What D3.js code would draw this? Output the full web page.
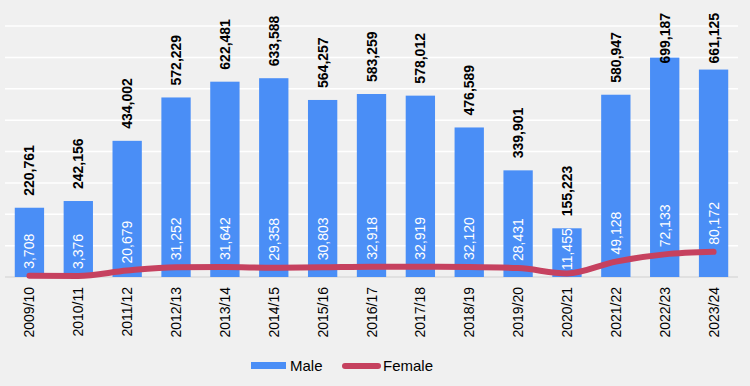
<!DOCTYPE html>
<html>
<head>
<meta charset="utf-8">
<script src="https://cdn.jsdelivr.net/npm/d3@7"></script>
<style>
  body { margin: 0; background: #f0f0f0; }
  svg { display: block; font-family: "Liberation Sans", Arial, sans-serif; }
</style>
</head>
<body>
<div id="chart"></div>
<script>
const years = ['2009/10', '2010/11', '2011/12', '2012/13', '2013/14', '2014/15', '2015/16',
  '2016/17', '2017/18', '2018/19', '2019/20', '2020/21', '2021/22', '2022/23', '2023/24'];
const male = [220761, 242156, 434002, 572229, 622481, 633588, 564257,
  583259, 578012, 476589, 339901, 155223, 580947, 699187, 661125];
const female = [3708, 3376, 20679, 31252, 31642, 29358, 30803,
  32918, 32919, 32120, 28431, 11455, 49128, 72133, 80172];
const yTicks = [0, 100000, 200000, 300000, 400000, 500000, 600000, 700000, 800000];

const width = 750, height = 386;
const margin = { top: 26, right: 12, bottom: 109, left: 5 };
const fmt = d3.format(',');

const svg = d3.select('#chart')
  .append('svg')
  .attr('width', width)
  .attr('height', height);

const x = d3.scaleBand()
  .domain(years)
  .range([margin.left, width - margin.right])
  .paddingInner(0.4)
  .paddingOuter(0.2);

const y = d3.scaleLinear()
  .domain([0, 800000])
  .range([height - margin.bottom, margin.top]);

const cx = (d) => x(d) + x.bandwidth() / 2;

// Gridlines
svg.append('g')
  .selectAll('line')
  .data(yTicks.slice(1))
  .enter()
  .append('line')
  .attr('x1', margin.left)
  .attr('x2', width - margin.right)
  .attr('y1', (d) => y(d))
  .attr('y2', (d) => y(d))
  .attr('stroke', '#ffffff')
  .attr('stroke-width', 1.5);

// Baseline
svg.append('line')
  .attr('x1', margin.left)
  .attr('x2', width - margin.right)
  .attr('y1', y(0))
  .attr('y2', y(0))
  .attr('stroke', '#d0d0d0')
  .attr('stroke-width', 1);

// Bars (Male)
svg.append('g')
  .selectAll('rect')
  .data(years)
  .enter()
  .append('rect')
  .attr('x', (d) => x(d))
  .attr('y', (d, i) => y(male[i]))
  .attr('width', x.bandwidth())
  .attr('height', (d, i) => y(0) - y(male[i]))
  .attr('fill', '#4a8ef6');

// Female line
const line = d3.line()
  .x((d, i) => cx(years[i]))
  .y((d) => y(d))
  .curve(d3.curveMonotoneX);

svg.append('path')
  .datum(female)
  .attr('d', line)
  .attr('fill', 'none')
  .attr('stroke', '#c6415f')
  .attr('stroke-width', 6)
  .attr('stroke-linecap', 'round');

// Male labels (above bars, kept inside the top of the chart)
svg.append('g')
  .selectAll('text')
  .data(years)
  .enter()
  .append('text')
  .attr('text-anchor', 'end')
  .style('font-size', '14px')
  .style('font-weight', 'bold')
  .attr('fill', '#000')
  .text((d, i) => fmt(male[i]))
  .attr('transform', function (d, i) {
    const len = this.getComputedTextLength();
    const top = Math.max(y(male[i]) - 12 - len, 13);
    return 'translate(' + (cx(d) + 5) + ',' + top + ') rotate(-90)';
  });

// Female labels (inside bars, kept inside the bar)
svg.append('g')
  .selectAll('text')
  .data(years)
  .enter()
  .append('text')
  .attr('text-anchor', 'end')
  .style('font-size', '14px')
  .attr('fill', '#ffffff')
  .text((d, i) => fmt(female[i]))
  .attr('transform', function (d, i) {
    const len = this.getComputedTextLength();
    const top = Math.max(y(female[i]) - 7 - len, y(male[i]));
    return 'translate(' + (cx(d) + 5) + ',' + top + ') rotate(-90)';
  });

// X axis labels
svg.append('g')
  .selectAll('text')
  .data(years)
  .enter()
  .append('text')
  .attr('transform', (d) =>
    'translate(' + (cx(d) + 5) + ',' + (y(0) + 10) + ') rotate(-90)')
  .attr('text-anchor', 'end')
  .style('font-size', '14px')
  .attr('fill', '#000')
  .text((d) => d);

// Legend
const legend = svg.append('g');
legend.append('rect')
  .attr('x', 251).attr('y', 362)
  .attr('width', 35).attr('height', 7)
  .attr('fill', '#4a8ef6');
legend.append('text')
  .attr('x', 290).attr('y', 371)
  .style('font-size', '15px')
  .text('Male');
legend.append('line')
  .attr('x1', 345).attr('x2', 378)
  .attr('y1', 366).attr('y2', 366)
  .attr('stroke', '#c6415f')
  .attr('stroke-width', 6)
  .attr('stroke-linecap', 'round');
legend.append('text')
  .attr('x', 383).attr('y', 371)
  .style('font-size', '15px')
  .text('Female');
</script>
</body>
</html>
